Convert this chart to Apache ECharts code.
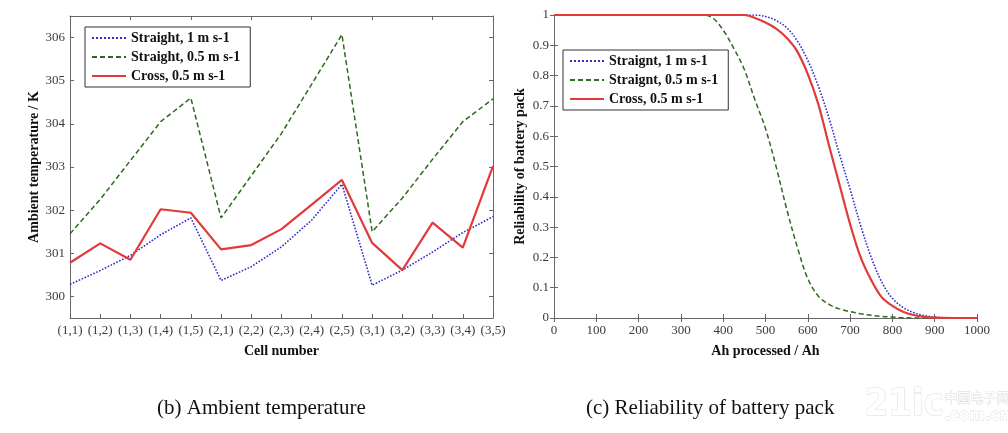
<!DOCTYPE html>
<html>
<head>
<meta charset="utf-8">
<script src="https://cdn.jsdelivr.net/npm/echarts@6/dist/echarts.min.js"></script>
<style>
  html, body { margin: 0; padding: 0; background: #fff; }
  #main { width: 1008px; height: 433px; }
</style>
</head>
<body>
<div id="main"></div>
<script>
// (b) ambient temperature per cell
const cells = ['(1,1)', '(1,2)', '(1,3)', '(1,4)', '(1,5)', '(2,1)', '(2,2)', '(2,3)', '(2,4)', '(2,5)', '(3,1)', '(3,2)', '(3,3)', '(3,4)', '(3,5)'];
const tempStraight1 = [300.28, 300.6, 300.95, 301.43, 301.82, 300.37, 300.69, 301.15, 301.77, 302.6, 300.26, 300.61, 301.03, 301.48, 301.85];
const tempStraight05 = [301.45, 302.25, 303.15, 304.05, 304.6, 301.82, 302.8, 303.78, 304.92, 306.07, 301.5, 302.28, 303.18, 304.05, 304.58];
const tempCross05 = [300.78, 301.23, 300.85, 302.02, 301.94, 301.09, 301.19, 301.56, 302.13, 302.7, 301.24, 300.61, 301.71, 301.13, 303.02];
const tempTicks = [300, 301, 302, 303, 304, 305, 306];

// (c) reliability vs Ah processed
const ahSteps = [0, 100, 200, 300, 350, 375, 400, 425, 450, 475, 500, 525, 550, 575, 600, 625, 650, 675, 700, 725, 750, 775, 800, 825, 850, 875, 900, 950, 1000];
const relStraight1 = [1, 1, 1, 1, 1, 1, 1, 1, 1, 1, 0.995, 0.982, 0.958, 0.915, 0.85, 0.765, 0.66, 0.54, 0.425, 0.305, 0.2, 0.118, 0.065, 0.035, 0.018, 0.008, 0.003, 0, 0];
const relStraight05 = [1, 1, 1, 1, 1, 0.99, 0.95, 0.89, 0.82, 0.72, 0.625, 0.5, 0.36, 0.235, 0.13, 0.072, 0.045, 0.03, 0.021, 0.014, 0.009, 0.005, 0.003, 0.001, 0, 0, 0, 0, 0];
const relCross05 = [1, 1, 1, 1, 1, 1, 1, 1, 1, 0.99, 0.975, 0.955, 0.925, 0.88, 0.805, 0.705, 0.57, 0.44, 0.31, 0.2, 0.125, 0.068, 0.04, 0.021, 0.01, 0.004, 0.001, 0, 0];

const legendLeft = ['Straight, 1 m s-1', 'Straight, 0.5 m s-1', 'Cross, 0.5 m s-1'];
const legendRight = ['Straignt, 1 m s-1', 'Straignt, 0.5 m s-1', 'Cross, 0.5 m s-1'];

const serif = 'Liberation Serif';
const frame = '#666';
const blue = '#2f2fc8', green = '#2c6a1c', red = '#e23a3a';

const chart = echarts.init(document.getElementById('main'));

// shared axis look: gray box, ticks pointing inward
const tickStyle = { show: true, inside: true, length: 4, lineStyle: { color: frame } };
const lineStyle = { show: true, lineStyle: { color: frame, width: 1 } };
const labelStyle = { color: '#3a3a3a', fontFamily: serif, fontSize: 13 };
const nameStyle = { color: '#111', fontFamily: serif, fontSize: 14, fontWeight: 'bold' };
const boxSide = { axisLine: lineStyle, axisTick: tickStyle, axisLabel: { show: false }, splitLine: { show: false } };
const legendBase = {
  orient: 'vertical', backgroundColor: '#fff', borderColor: '#333', borderWidth: 1,
  padding: [4, 10, 4, 6], itemGap: 5, itemWidth: 34, itemHeight: 14,
  itemStyle: { opacity: 0 },
  textStyle: { fontFamily: serif, fontSize: 14, fontWeight: 'bold', color: '#111' }
};

function zip(xs, ys) {
  return xs.map((x, i) => [x, ys[i]]);
}

chart.setOption({
  animation: false,
  grid: [
    { left: 70, top: 16, width: 423, height: 302 },
    { left: 554, top: 15, width: 423, height: 303 }
  ],
  xAxis: [
    {
      gridIndex: 0, type: 'category', data: cells, boundaryGap: false, position: 'bottom',
      name: 'Cell number', nameLocation: 'middle', nameGap: 26, nameTextStyle: nameStyle,
      axisLine: lineStyle, axisTick: Object.assign({}, tickStyle, { alignWithLabel: true, interval: 0 }),
      axisLabel: Object.assign({}, labelStyle, { interval: 0, margin: 6 }),
      splitLine: { show: false }
    },
    Object.assign({ gridIndex: 0, type: 'category', data: cells, boundaryGap: false, position: 'top' }, boxSide),
    {
      gridIndex: 1, type: 'value', min: 0, max: 1000, interval: 100, position: 'bottom',
      name: 'Ah processed / Ah', nameLocation: 'middle', nameGap: 26, nameTextStyle: nameStyle,
      axisLine: lineStyle, axisTick: tickStyle,
      axisLabel: Object.assign({}, labelStyle, { margin: 6, formatter: v => String(v) }),
      splitLine: { show: false }
    },
    Object.assign({ gridIndex: 1, type: 'value', min: 0, max: 1000, interval: 100, position: 'top' }, boxSide)
  ],
  yAxis: [
    {
      gridIndex: 0, type: 'value', min: 299.5, max: 306.5, position: 'left',
      name: 'Ambient temperature / K', nameLocation: 'middle', nameGap: 27, nameTextStyle: nameStyle,
      axisLine: lineStyle,
      axisTick: Object.assign({}, tickStyle, { customValues: tempTicks }),
      axisLabel: Object.assign({}, labelStyle, { customValues: tempTicks, margin: 5 }),
      splitLine: { show: false }
    },
    Object.assign({ gridIndex: 0, type: 'value', min: 299.5, max: 306.5, position: 'right' }, boxSide,
      { axisTick: Object.assign({}, tickStyle, { customValues: tempTicks }) }),
    {
      gridIndex: 1, type: 'value', min: 0, max: 1, interval: 0.1, position: 'left',
      name: 'Reliability of battery pack', nameLocation: 'middle', nameGap: 27, nameTextStyle: nameStyle,
      axisLine: lineStyle, axisTick: tickStyle,
      axisLabel: Object.assign({}, labelStyle, { margin: 5, formatter: v => String(Math.round(v * 10) / 10) }),
      splitLine: { show: false }
    },
    Object.assign({ gridIndex: 1, type: 'value', min: 0, max: 1, interval: 0.1, position: 'right' }, boxSide)
  ],
  legend: [
    Object.assign({ data: legendLeft, left: 85, top: 27 }, legendBase),
    Object.assign({ data: legendRight, left: 563, top: 50 }, legendBase)
  ],
  series: [
    { name: legendLeft[0], type: 'line', xAxisIndex: 0, yAxisIndex: 0, data: tempStraight1, symbol: 'none',
      color: blue, lineStyle: { color: blue, width: 1.6, type: 'dotted' } },
    { name: legendLeft[1], type: 'line', xAxisIndex: 0, yAxisIndex: 0, data: tempStraight05, symbol: 'none',
      color: green, lineStyle: { color: green, width: 1.5, type: [5, 3] } },
    { name: legendLeft[2], type: 'line', xAxisIndex: 0, yAxisIndex: 0, data: tempCross05, symbol: 'none',
      color: red, lineStyle: { color: red, width: 2.2 } },
    { name: legendRight[0], type: 'line', xAxisIndex: 2, yAxisIndex: 2, data: zip(ahSteps, relStraight1), symbol: 'none',
      smooth: 0.35, color: blue, lineStyle: { color: blue, width: 1.6, type: 'dotted' } },
    { name: legendRight[1], type: 'line', xAxisIndex: 2, yAxisIndex: 2, data: zip(ahSteps, relStraight05), symbol: 'none',
      smooth: 0.35, color: green, lineStyle: { color: green, width: 1.5, type: [5, 3] } },
    { name: legendRight[2], type: 'line', xAxisIndex: 2, yAxisIndex: 2, data: zip(ahSteps, relCross05), symbol: 'none',
      smooth: 0.35, color: red, lineStyle: { color: red, width: 2.2 } }
  ],
  graphic: [
    { type: 'text', left: 157, top: 398, style: { text: '(b) Ambient temperature', font: '21px "Liberation Serif"', fill: '#111' } },
    { type: 'text', left: 586, top: 398, style: { text: '(c) Reliability of battery pack', font: '21px "Liberation Serif"', fill: '#111' } },
    { type: 'text', left: 864, top: 386, style: { text: '21ic', font: 'bold 38px "DejaVu Sans Condensed"', fill: '#fff', stroke: '#dcdcdc', lineWidth: 1 } },
    { type: 'text', left: 944, top: 390, style: { text: '中国电子网', font: '13px "Noto Sans CJK SC"', fill: '#fff', stroke: '#d4d4d4', lineWidth: 0.8 } },
    { type: 'text', left: 944, top: 408, style: { text: '.com.cn', font: 'bold 15px "DejaVu Sans"', fill: '#fff', stroke: '#dcdcdc', lineWidth: 0.8 } }
  ]
});

window.addEventListener('resize', () => chart.resize());
</script>
</body>
</html>
